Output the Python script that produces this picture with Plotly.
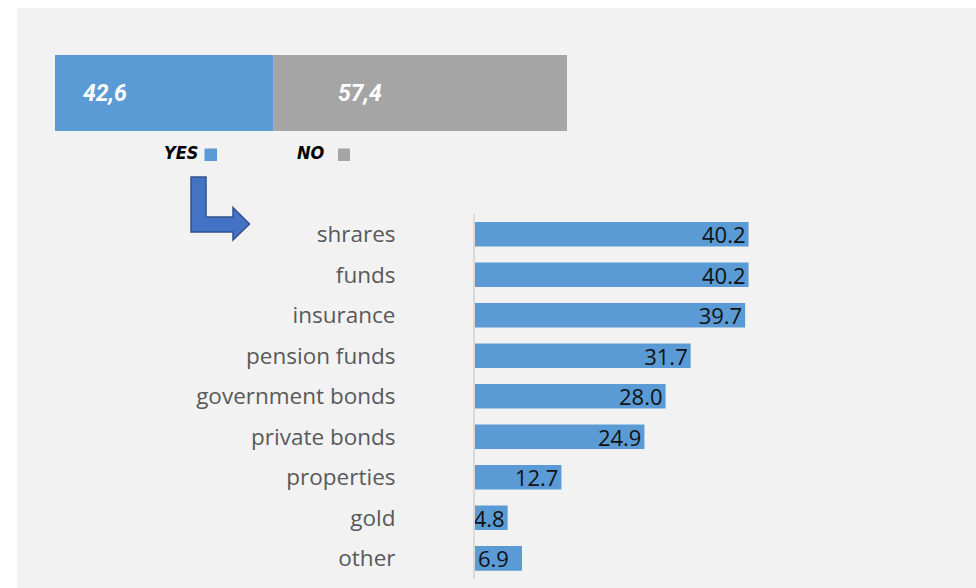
import plotly.graph_objects as go

# --- data -------------------------------------------------------------
answer_labels = ["YES", "NO"]
answer_values = [42.6, 57.4]

categories = ["shrares", "funds", "insurance", "pension funds", "government bonds",
              "private bonds", "properties", "gold", "other"]
shares = [40.2, 40.2, 39.7, 31.7, 28.0, 24.9, 12.7, 4.8, 6.9]

# --- styling ----------------------------------------------------------
W, H = 976, 588
BLUE = "#5B9BD5"
GREY = "#A5A5A5"
PANEL = "#F2F2F2"
ARROW_FILL = "#4472C4"
ARROW_LINE = "#2F528F"
SANS = "Open Sans, Noto Sans, DejaVu Sans, sans-serif"
NARROW = "DejaVu Sans Condensed, Liberation Sans Narrow, Roboto, sans-serif"
ROBOTO = "Roboto, Liberation Sans, sans-serif"


def px(x):
    return x / W


def py(y):
    return 1 - y / H


answer_colors = {"YES": BLUE, "NO": GREY}

fig = go.Figure()

# Top: YES / NO split as one stacked horizontal bar
base = 0
for lab, val in zip(answer_labels, answer_values):
    fig.add_trace(go.Bar(
        x=[val], y=[0], base=[base], orientation="h", width=1,
        marker=dict(color=answer_colors[lab], line=dict(width=0)),
        xaxis="x", yaxis="y", showlegend=False, hoverinfo="skip",
    ))
    base += val

# Bottom: investment categories
at_base = [c == "other" for c in categories]
fig.add_trace(go.Bar(
    x=shares, y=categories, orientation="h", width=0.61,
    marker=dict(color=BLUE, line=dict(width=0)),
    text=[None if b else f"{v:.1f}" for v, b in zip(shares, at_base)],
    textposition="inside", insidetextanchor="end", constraintext="none",
    textfont=dict(family=SANS, size=22, color="#111111"),
    xaxis="x2", yaxis="y2", showlegend=False, hoverinfo="skip",
))
fig.add_trace(go.Bar(
    x=[v if b else None for v, b in zip(shares, at_base)], y=categories,
    orientation="h", width=0.61,
    marker=dict(color=BLUE, line=dict(width=0)),
    text=[f"{v:.1f}" if b else None for v, b in zip(shares, at_base)],
    textposition="inside", insidetextanchor="start", constraintext="none",
    textfont=dict(family=SANS, size=22, color="#111111"),
    xaxis="x2", yaxis="y2", showlegend=False, hoverinfo="skip",
))

# value labels on the YES / NO bar
annotations = []
bases = [0, answer_values[0]]
shifts = [26, 63]
for val, b, s in zip(answer_values, bases, shifts):
    annotations.append(dict(
        x=b, y=0, xref="x", yref="y", xanchor="left", yanchor="middle",
        xshift=s, showarrow=False,
        text=f"<b><i>{val:.1f}</i></b>".replace(".", ","),
        font=dict(family=ROBOTO, size=23, color="white"),
    ))

# legend texts under the bar
for lab, x0 in zip(answer_labels, [162, 295]):
    annotations.append(dict(
        x=px(x0), y=py(152.5), xref="paper", yref="paper",
        xanchor="left", yanchor="middle", showarrow=False,
        text=f"<b><i>{lab}</i></b>",
        font=dict(family=NARROW, size=18, color="black"),
    ))

shapes = [
    # panel background
    dict(type="rect", xref="paper", yref="paper", x0=px(17), x1=1, y0=0, y1=py(8),
         fillcolor=PANEL, line=dict(width=0), layer="below"),
    # legend swatches
    dict(type="rect", xref="paper", yref="paper", x0=px(204.5), x1=px(217), y0=py(161), y1=py(148.5),
         fillcolor=BLUE, line=dict(width=0)),
    dict(type="rect", xref="paper", yref="paper", x0=px(338), x1=px(350), y0=py(161), y1=py(148.5),
         fillcolor=GREY, line=dict(width=0)),
]

# bent arrow pointing from YES to the breakdown
arrow_pts = [(191, 177), (206, 177), (206, 217), (233, 217), (233, 207.5),
             (249.5, 224), (233, 240), (233, 232), (191, 232)]
path = "M " + " L ".join(f"{px(x):.5f},{py(y):.5f}" for x, y in arrow_pts) + " Z"
shapes.append(dict(type="path", xref="paper", yref="paper", path=path,
                   fillcolor=ARROW_FILL, line=dict(color=ARROW_LINE, width=1.5)))

fig.update_layout(
    width=W, height=H,
    margin=dict(l=0, r=0, t=0, b=0),
    paper_bgcolor="white", plot_bgcolor="rgba(0,0,0,0)",
    barmode="overlay",
    xaxis=dict(domain=[px(55), px(567)], range=[0, 100], visible=False, fixedrange=True),
    yaxis=dict(domain=[py(131), py(55)], range=[-0.5, 0.5], visible=False, fixedrange=True),
    xaxis2=dict(domain=[px(475), px(475 + 70 * 6.805)], range=[0, 70], anchor="y2",
                visible=False, fixedrange=True),
    yaxis2=dict(domain=[py(578.5), py(214)], anchor="x2", range=[8.5, -0.5],
                type="category", categoryorder="array", categoryarray=categories,
                showline=True, linecolor="#D9D9D9", linewidth=2, layer="below traces",
                showgrid=False, zeroline=False, ticks="", ticklabelstandoff=73,
                tickfont=dict(family=SANS, size=22.5, color="#595959"), fixedrange=True),
    annotations=annotations,
    shapes=shapes,
)

fig.write_html("out.html")
